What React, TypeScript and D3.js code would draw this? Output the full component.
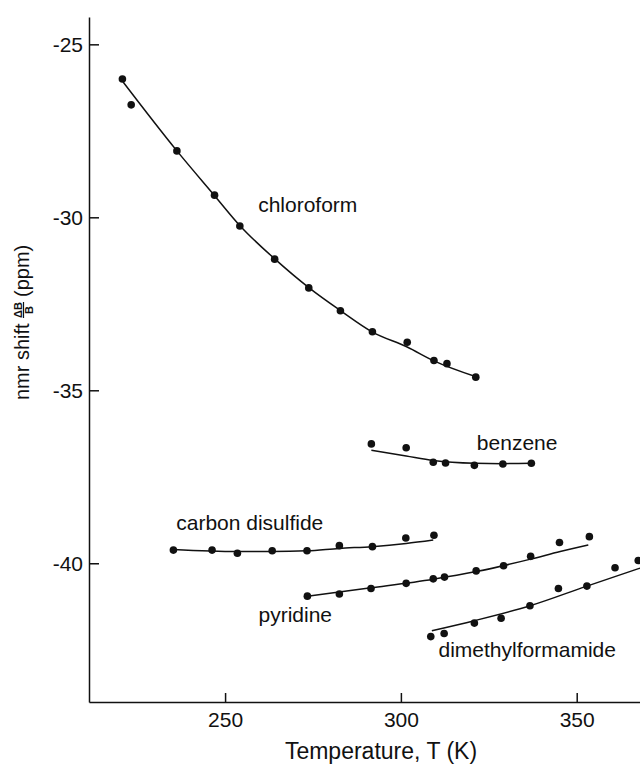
import React, { useEffect, useRef } from "react";
import * as d3 from "d3";

const X_TICKS = [250, 300, 350];
const Y_TICKS = [-40, -35, -30, -25];

// measured points (T in K, shift in ppm)
const CHLOROFORM_T = [220.8, 223.3, 236.3, 247.0, 254.2, 264.1, 273.8, 282.8, 291.9, 301.8, 309.4, 313.1, 321.3];
const CHLOROFORM_V = [-26.0, -26.75, -28.08, -29.36, -30.25, -31.21, -32.04, -32.7, -33.31, -33.61, -34.14, -34.23, -34.62];
const BENZENE_T = [291.6, 301.5, 309.2, 312.7, 320.9, 329.0, 337.1];
const BENZENE_V = [-36.55, -36.66, -37.08, -37.1, -37.17, -37.13, -37.11];
const CS2_T = [235.3, 246.3, 253.5, 263.4, 273.3, 282.5, 291.9, 301.4, 309.4];
const CS2_V = [-39.62, -39.62, -39.71, -39.64, -39.64, -39.49, -39.52, -39.27, -39.19];
const PYRIDINE_T = [273.4, 282.5, 291.5, 301.5, 309.2, 312.4, 321.4, 329.2, 336.9, 345.1, 353.6];
const PYRIDINE_V = [-40.95, -40.89, -40.73, -40.58, -40.45, -40.4, -40.22, -40.07, -39.8, -39.4, -39.23];
const DMF_T = [308.5, 312.3, 320.9, 328.5, 336.7, 344.8, 352.9, 360.9, 367.5];
const DMF_V = [-42.12, -42.03, -41.73, -41.59, -41.23, -40.73, -40.66, -40.13, -39.92];

// smooth fitted curves
const CHLOROFORM_FIT_T = [221.0, 236.3, 246.9, 254.3, 264.2, 273.9, 283.0, 291.8, 301.8, 309.4, 321.4];
const CHLOROFORM_FIT_V = [-26.09, -28.08, -29.36, -30.25, -31.21, -32.04, -32.71, -33.31, -33.75, -34.15, -34.61];
const BENZENE_FIT_T = [291.6, 301.5, 309.2, 320.9, 329.0, 337.1];
const BENZENE_FIT_V = [-36.73, -36.9, -37.03, -37.11, -37.12, -37.11];
const CS2_FIT_T = [235.2, 253.4, 263.4, 273.3, 282.4, 291.8, 301.5, 309.2];
const CS2_FIT_V = [-39.6, -39.66, -39.66, -39.64, -39.57, -39.52, -39.43, -39.33];
const PYRIDINE_FIT_T = [273.4, 291.5, 309.2, 321.4, 336.9, 345.3, 353.3];
const PYRIDINE_FIT_V = [-40.95, -40.71, -40.46, -40.24, -39.88, -39.66, -39.47];
const DMF_FIT_T = [308.8, 320.9, 336.7, 352.9, 368.0];
const DMF_FIT_V = [-41.95, -41.66, -41.23, -40.66, -40.14];

const SOLVENTS = ["chloroform", "benzene", "carbon disulfide", "pyridine", "dimethylformamide"];
const POINTS_T = [CHLOROFORM_T, BENZENE_T, CS2_T, PYRIDINE_T, DMF_T];
const POINTS_V = [CHLOROFORM_V, BENZENE_V, CS2_V, PYRIDINE_V, DMF_V];
const FITS_T = [CHLOROFORM_FIT_T, BENZENE_FIT_T, CS2_FIT_T, PYRIDINE_FIT_T, DMF_FIT_T];
const FITS_V = [CHLOROFORM_FIT_V, BENZENE_FIT_V, CS2_FIT_V, PYRIDINE_FIT_V, DMF_FIT_V];
// label anchor (left edge, baseline) in data units
const LABEL_T = [259.4, 321.6, 236.1, 259.5, 310.7];
const LABEL_V = [-29.84, -36.73, -39.04, -41.7, -42.71];

const FONT = "'Liberation Sans', Arial, Helvetica, sans-serif";
const INK = "#111";

function renderChart(svgEl: SVGSVGElement) {
  const svg = d3.select(svgEl);
  svg.selectAll("*").remove();

  const width = 640;
  const height = 767;
  svg.attr("width", width).attr("height", height);

  const x = d3.scaleLinear().domain([211.3, 368]).range([89, 640]);
  const y = d3.scaleLinear().domain([-44.01, -24.21]).range([702, 17]);

  svg.append("rect").attr("width", width).attr("height", height).attr("fill", "#fff");

  svg.append("defs").append("clipPath").attr("id", "plot-clip")
    .append("rect").attr("x", 89).attr("y", 17).attr("width", 551).attr("height", 685);

  // Axes
  const xAxis = svg.append("g")
    .attr("transform", "translate(0,702)")
    .call(
      d3.axisBottom(x).tickValues(X_TICKS)
        .tickSizeInner(-9).tickSizeOuter(0).tickPadding(10)
        .tickFormat(d => String(d))
    );
  const yAxis = svg.append("g")
    .attr("transform", "translate(89,0)")
    .call(
      d3.axisLeft(y).tickValues(Y_TICKS)
        .tickSizeInner(-10).tickSizeOuter(0).tickPadding(6)
        .tickFormat(d => String(d))
    );
  [xAxis, yAxis].forEach(ax => {
    ax.attr("font-family", FONT).attr("font-size", 21);
    ax.selectAll("path, line").attr("stroke", INK).attr("stroke-width", 1.5);
    ax.selectAll("text").attr("fill", INK);
  });

  // Axis titles
  svg.append("text")
    .attr("x", 381).attr("y", 759)
    .attr("text-anchor", "middle")
    .attr("font-family", FONT).attr("font-size", 23).attr("fill", INK)
    .text("Temperature, T (K)");

  const yl = svg.append("g")
    .attr("transform", "translate(29,400) rotate(-90)")
    .attr("font-family", FONT).attr("fill", INK);
  yl.append("text").attr("x", 0).attr("y", 0).attr("font-size", 20).text("nmr shift");
  yl.append("text").attr("x", 90).attr("y", -7.5).attr("text-anchor", "middle")
    .attr("font-size", 11).attr("font-weight", "bold").text("ΔB");
  yl.append("line").attr("x1", 82).attr("x2", 98).attr("y1", -5.5).attr("y2", -5.5)
    .attr("stroke", INK).attr("stroke-width", 1.2);
  yl.append("text").attr("x", 90).attr("y", 4.3).attr("text-anchor", "middle")
    .attr("font-size", 11).attr("font-weight", "bold").text("B");
  yl.append("text").attr("x", 103).attr("y", 0).attr("font-size", 20).text("(ppm)");

  const plot = svg.append("g").attr("clip-path", "url(#plot-clip)");
  const line = d3.line<[number, number]>()
    .x(d => x(d[0])).y(d => y(d[1]))
    .curve(d3.curveMonotoneX);

  SOLVENTS.forEach((name, i) => {
    const fit = FITS_T[i].map((t, j) => [t, FITS_V[i][j]] as [number, number]);
    plot.append("path")
      .attr("d", line(fit))
      .attr("fill", "none").attr("stroke", INK).attr("stroke-width", 1.5);

    plot.append("g").selectAll("circle")
      .data(POINTS_T[i].map((t, j) => [t, POINTS_V[i][j]]))
      .join("circle")
      .attr("cx", d => x(d[0])).attr("cy", d => y(d[1]))
      .attr("r", 3.8).attr("fill", INK);

    svg.append("text")
      .attr("x", x(LABEL_T[i])).attr("y", y(LABEL_V[i]))
      .attr("font-family", FONT).attr("font-size", 21).attr("fill", INK)
      .text(name);
  });
}

export default function App() {
  const svgRef = useRef<SVGSVGElement>(null);

  useEffect(() => {
    if (svgRef.current) renderChart(svgRef.current);
  }, []);

  return (
    <svg
      ref={svgRef}
      style={{ position: "absolute", left: 0, top: 0, display: "block" }}
    />
  );
}
